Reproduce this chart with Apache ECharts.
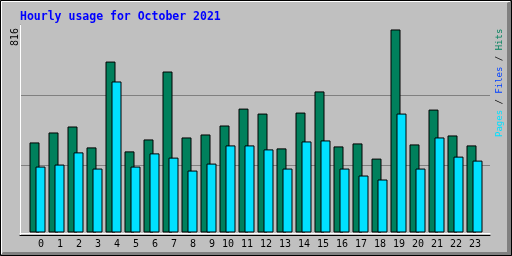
<!DOCTYPE html>
<html>
<head>
<meta charset="utf-8">
<script src="https://cdn.jsdelivr.net/npm/echarts@6/dist/echarts.min.js"></script>
<style>
html,body{margin:0;padding:0;background:#c0c0c0;}
#chart{width:512px;height:256px;}
</style>
</head>
<body>
<div id="chart"></div>
<script>
const titleText = 'Hourly usage for October 2021';
const hours = ['0','1','2','3','4','5','6','7','8','9','10','11','12','13','14','15','16','17','18','19','20','21','22','23'];
const hits  = [362, 402, 426, 342, 687, 326, 374, 647, 382, 394, 430, 498, 478, 338, 482, 567, 346, 358, 297, 816, 354, 494, 390, 350];
const pages = [265, 273, 322, 257, 607, 265, 318, 301, 249, 277, 350, 350, 334, 257, 366, 370, 257, 229, 213, 478, 257, 382, 305, 289];
const legendItems = ['Pages', 'Files', 'Hits'];
const legendColors = ['#00e0ff', '#0040ff', '#00805c'];
const maxLabel = String(Math.max.apply(null, hits));

const chart = echarts.init(document.getElementById('chart'), null, {renderer: 'canvas'});
const mono = 'DejaVu Sans Mono';

const rich = {};
legendItems.forEach((n, i) => { rich['l' + i] = {fill: legendColors[i], font: '9px "' + mono + '"'}; });
const legendText = legendItems.map((n, i) => '{l' + i + '|' + n + '}').join(' / ');

const hidden = {show: false};
const option = {
  backgroundColor: '#c0c0c0',
  animation: false,
  title: {
    text: titleText, left: 15, top: 6,
    textStyle: {color: '#0000ff', fontFamily: mono, fontWeight: 'bold', fontSize: 11.5}
  },
  grid: [
    {left: 20, right: 22, top: 25, bottom: 21},      // frame
    {left: 28, right: 28, top: 25, bottom: 23.5},    // bars
    {left: 34.5, right: 21.5, top: 25, bottom: 23.5} // hour labels
  ],
  xAxis: [
    {gridIndex: 0, type: 'value', min: 0, max: 1, position: 'bottom', offset: -2,
     axisLine: {show: true, lineStyle: {color: '#ffffff', width: 1}}, axisTick: hidden, axisLabel: hidden, splitLine: hidden},
    {gridIndex: 0, type: 'value', min: 0, max: 1, position: 'top',
     axisLine: {show: true, lineStyle: {color: '#000000', width: 1}}, axisTick: hidden, axisLabel: hidden, splitLine: hidden},
    {gridIndex: 1, type: 'category', data: hours, axisLine: hidden, axisTick: hidden, axisLabel: hidden, splitLine: hidden},
    {gridIndex: 2, type: 'category', data: hours, axisLine: hidden, axisTick: hidden, splitLine: hidden,
     axisLabel: {show: true, interval: 0, align: 'right', margin: 7, color: '#000', fontFamily: mono, fontSize: 10}}
  ],
  yAxis: [
    {gridIndex: 0, type: 'value', min: 0, max: 3, interval: 1, position: 'left',
     axisLine: {show: true, lineStyle: {color: '#000000', width: 1}}, axisTick: hidden, axisLabel: hidden,
     splitLine: {show: true, showMinLine: false, showMaxLine: false, lineStyle: {color: '#808080', width: 1}}},
    {gridIndex: 0, type: 'value', min: 0, max: 3, position: 'right',
     axisLine: {show: true, lineStyle: {color: '#ffffff', width: 1}}, axisTick: hidden, axisLabel: hidden, splitLine: hidden},
    {gridIndex: 1, type: 'value', min: 0, max: 834, axisLine: hidden, axisTick: hidden, axisLabel: hidden, splitLine: hidden},
    {gridIndex: 2, type: 'value', min: 0, max: 834, axisLine: hidden, axisTick: hidden, axisLabel: hidden, splitLine: hidden}
  ],
  series: [
    {name: 'Hits', type: 'bar', xAxisIndex: 2, yAxisIndex: 2, data: hits, barWidth: 10, barGap: '-40%',
     itemStyle: {color: '#00805c', borderColor: '#000', borderWidth: 1}},
    {name: 'Pages', type: 'bar', xAxisIndex: 2, yAxisIndex: 2, data: pages, barWidth: 10, barGap: '-40%',
     itemStyle: {color: '#00e0ff', borderColor: '#000', borderWidth: 1}}
  ],
  graphic: [
    {type: 'polygon', silent: true, z: -1,
     shape: {points: [[512,0],[512,256],[0,256],[3,252],[507,252],[507,3]]}, style: {fill: '#808080'}},
    {type: 'polyline', silent: true, z: -1,
     shape: {points: [[1.5,254],[1.5,1.5],[510,1.5]]}, style: {stroke: '#ffffff', lineWidth: 1, fill: null}},
    {type: 'rect', silent: true, z: -1,
     shape: {x: 0.5, y: 0.5, width: 511, height: 255}, style: {stroke: '#000000', lineWidth: 1, fill: null}},
    {type: 'text', silent: true, x: 15.5, y: 46, rotation: Math.PI / 2,
     style: {text: maxLabel, fill: '#000', font: '10px "' + mono + '"', align: 'left', verticalAlign: 'middle'}},
    {type: 'text', silent: true, x: 500, y: 137, rotation: Math.PI / 2,
     style: {text: legendText, rich: rich, fill: '#000', font: '9px "' + mono + '"', align: 'left', verticalAlign: 'middle'}}
  ]
};
chart.setOption(option);
</script>
</body>
</html>
